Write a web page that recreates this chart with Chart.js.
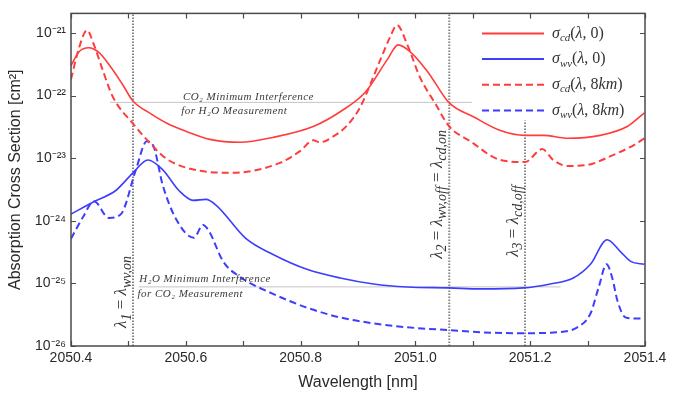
<!DOCTYPE html>
<html>
<head>
<meta charset="utf-8">
<script src="https://cdn.jsdelivr.net/npm/chart.js@4.4.0/dist/chart.umd.min.js"></script>
<style>
  html, body { margin: 0; padding: 0; background: #fff; }
  #wrap { width: 683px; height: 395px; }
</style>
</head>
<body>
<div id="wrap"><canvas id="chart" width="683" height="395"></canvas></div>
<script>
// Wavelengths (nm) and cross sections (cm^2)
const wlCd0 = [2050.400, 2050.414, 2050.431, 2050.449, 2050.468, 2050.489, 2050.508, 2050.538, 2050.567, 2050.600, 2050.642, 2050.695, 2050.752, 2050.822, 2050.869, 2050.913, 2050.951, 2050.970, 2050.991, 2051.021, 2051.059, 2051.101, 2051.148, 2051.191, 2051.223, 2051.265, 2051.322, 2051.369, 2051.399];
const sigmaCd0 = [3.03e-22, 5.02e-22, 5.81e-22, 4.85e-22, 2.97e-22, 1.55e-22, 8.20e-23, 5.20e-23, 3.62e-23, 2.70e-23, 2.00e-23, 1.80e-23, 2.15e-23, 3.21e-23, 5.52e-23, 1.14e-22, 3.76e-22, 6.47e-22, 5.02e-22, 2.44e-22, 7.65e-23, 4.61e-23, 2.77e-23, 2.32e-23, 2.32e-23, 2.08e-23, 2.32e-23, 3.21e-23, 5.32e-23];

const wlWv0 = [2050.400, 2050.438, 2050.478, 2050.508, 2050.534, 2050.560, 2050.588, 2050.613, 2050.635, 2050.653, 2050.705, 2050.752, 2050.811, 2050.869, 2050.927, 2050.986, 2051.059, 2051.113, 2051.188, 2051.235, 2051.275, 2051.305, 2051.334, 2051.357, 2051.375, 2051.399];
const sigmaWv0 = [1.28e-24, 1.98e-24, 3.05e-24, 5.85e-24, 9.37e-24, 6.52e-24, 3.05e-24, 2.12e-24, 2.20e-24, 1.77e-24, 5.18e-25, 2.90e-25, 1.68e-25, 1.22e-25, 9.79e-26, 8.77e-26, 8.47e-26, 8.17e-26, 8.47e-26, 9.79e-26, 1.22e-25, 2.02e-25, 4.99e-25, 3.23e-25, 2.25e-25, 2.02e-25];

const wlCd8 = [2050.400, 2050.414, 2050.428, 2050.440, 2050.456, 2050.473, 2050.508, 2050.538, 2050.567, 2050.625, 2050.682, 2050.764, 2050.799, 2050.822, 2050.834, 2050.857, 2050.881, 2050.904, 2050.939, 2050.956, 2050.968, 2050.986, 2051.008, 2051.035, 2051.059, 2051.096, 2051.148, 2051.191, 2051.221, 2051.240, 2051.265, 2051.300, 2051.340, 2051.380, 2051.399];
const sigmaCd8 = [1.82e-22, 5.81e-22, 1.11e-21, 6.47e-22, 2.44e-22, 9.51e-23, 3.57e-23, 1.73e-23, 9.70e-24, 6.30e-24, 5.85e-24, 8.41e-24, 1.30e-23, 1.93e-23, 1.80e-23, 2.23e-23, 3.33e-23, 6.62e-23, 3.76e-22, 8.65e-22, 1.34e-21, 6.47e-22, 1.96e-22, 7.38e-23, 3.21e-23, 1.86e-23, 9.37e-24, 8.71e-24, 1.40e-23, 9.37e-24, 7.53e-24, 7.82e-24, 1.08e-23, 1.61e-23, 2.08e-23];

const wlWv8 = [2050.400, 2050.421, 2050.440, 2050.466, 2050.487, 2050.513, 2050.532, 2050.543, 2050.560, 2050.583, 2050.614, 2050.630, 2050.641, 2050.665, 2050.695, 2050.752, 2050.811, 2050.869, 2050.927, 2050.986, 2051.059, 2051.113, 2051.188, 2051.247, 2051.282, 2051.305, 2051.319, 2051.333, 2051.343, 2051.352, 2051.366, 2051.380, 2051.399];
const sigmaWv8 = [5.18e-25, 1.15e-24, 2.05e-24, 1.11e-24, 1.28e-24, 6.52e-24, 1.86e-23, 1.61e-23, 3.66e-24, 1.07e-24, 5.37e-25, 8.59e-25, 6.67e-25, 2.25e-25, 1.26e-25, 6.81e-26, 4.10e-26, 2.86e-26, 2.30e-26, 1.99e-26, 1.79e-26, 1.66e-26, 1.60e-26, 1.66e-26, 1.99e-26, 3.30e-26, 8.47e-26, 2.02e-25, 1.22e-25, 5.28e-26, 2.86e-26, 2.75e-26, 2.75e-26];

// selected wavelengths (vertical dotted lines)
const lambdaOn = 2050.508, lambdaOffOn = 2051.059, lambdaCdOff = 2051.191;
// minimum interference levels (horizontal gray lines)
const co2Level = 7.8e-23, co2LevelFrom = 2050.468, co2LevelTo = 2051.099;
const h2oLevel = 8.8e-26, h2oLevelFrom = 2050.518, h2oLevelTo = 2051.253;

const xTickValues = [2050.4, 2050.5, 2050.6, 2050.7, 2050.8, 2050.9, 2051.0, 2051.1, 2051.2, 2051.3, 2051.4];
const yTickValues = [1e-26, 1e-25, 1e-24, 1e-23, 1e-22, 1e-21];
const yTickLabels = ['10⁻²⁶', '10⁻²⁵', '10⁻²⁴', '10⁻²³', '10⁻²²', '10⁻²¹'];

const RED = '#ff3d3d';
const BLUE = '#3d3dff';
const SERIF = '"Liberation Serif", "DejaVu Serif", serif';
const SANS = '"Liberation Sans", Arial, sans-serif';

// rich labels: [text, kind]  i = italic, r = roman, s = subscript
const legendItems = [
  { color: RED, dash: [], parts: [['σ', 'i'], ['cd', 's'], ['(', 'r'], ['λ', 'i'], [', 0)', 'r']] },
  { color: BLUE, dash: [], parts: [['σ', 'i'], ['wv', 's'], ['(', 'r'], ['λ', 'i'], [', 0)', 'r']] },
  { color: RED, dash: [7, 4], parts: [['σ', 'i'], ['cd', 's'], ['(', 'r'], ['λ', 'i'], [', 8', 'r'], ['km', 'i'], [')', 'r']] },
  { color: BLUE, dash: [7, 4], parts: [['σ', 'i'], ['wv', 's'], ['(', 'r'], ['λ', 'i'], [', 8', 'r'], ['km', 'i'], [')', 'r']] }
];

const toPoints = (xs, ys) => xs.map((x, i) => ({ x: x, y: ys[i] }));

function curve(data, color, dash) {
  return {
    data: data,
    borderColor: color,
    borderWidth: dash.length ? 2 : 1.6,
    borderDash: dash,
    pointRadius: 0,
    cubicInterpolationMode: 'monotone',
    fill: false,
    order: 1
  };
}

function guide(data, color, width, dash) {
  return {
    data: data,
    borderColor: color,
    borderWidth: width,
    borderDash: dash,
    pointRadius: 0,
    tension: 0,
    fill: false,
    order: 5
  };
}

function drawRich(ctx, x, y, parts, size, opts) {
  opts = opts || {};
  const subRatio = opts.subRatio || 0.68;
  const fontOf = kind => {
    if (kind === 's') return 'italic ' + Math.round(size * subRatio) + 'px ' + SERIF;
    if (kind === 'i') return 'italic ' + size + 'px ' + SERIF;
    return size + 'px ' + SERIF;
  };
  ctx.save();
  ctx.translate(x, y);
  if (opts.rotate) ctx.rotate(-Math.PI / 2);
  ctx.fillStyle = opts.color || '#333';
  ctx.textBaseline = 'middle';
  ctx.textAlign = 'left';
  let total = 0;
  const widths = parts.map(p => {
    ctx.font = fontOf(p[1]);
    const w = ctx.measureText(p[0]).width;
    total += w;
    return w;
  });
  let cx = opts.center ? -total / 2 : 0;
  parts.forEach((p, i) => {
    ctx.font = fontOf(p[1]);
    ctx.fillText(p[0], cx, p[1] === 's' ? size * 0.3 : 0);
    cx += widths[i];
  });
  ctx.restore();
}

const framePlugin = {
  id: 'frame',
  afterDatasetsDraw(chart) {
    const ctx = chart.ctx;
    const a = chart.chartArea;
    const xs = chart.scales.x, ys = chart.scales.y;

    // box
    ctx.save();
    ctx.strokeStyle = '#4a4a4a';
    ctx.lineWidth = 1.5;
    ctx.strokeRect(a.left, a.top, a.right - a.left, a.bottom - a.top);

    // inward ticks
    ctx.lineWidth = 1.2;
    ctx.beginPath();
    xTickValues.forEach(v => {
      const px = Math.round(xs.getPixelForValue(v)) + 0.5;
      ctx.moveTo(px, a.bottom); ctx.lineTo(px, a.bottom - 5);
      ctx.moveTo(px, a.top); ctx.lineTo(px, a.top + 5);
    });
    yTickValues.forEach(v => {
      const py = Math.round(ys.getPixelForValue(v)) + 0.5;
      ctx.moveTo(a.left, py); ctx.lineTo(a.left + 5, py);
      ctx.moveTo(a.right, py); ctx.lineTo(a.right - 5, py);
    });
    ctx.stroke();
    ctx.restore();

    // legend
    legendItems.forEach((item, i) => {
      const y = a.top + 20 + i * 25.7;
      ctx.save();
      ctx.strokeStyle = item.color;
      ctx.lineWidth = 2;
      ctx.setLineDash(item.dash);
      ctx.beginPath();
      ctx.moveTo(a.right - 163, y);
      ctx.lineTo(a.right - 101, y);
      ctx.stroke();
      ctx.restore();
      drawRich(ctx, a.right - 93, y, item.parts, 16, { color: '#333' });
    });

    // minimum interference notes
    ctx.save();
    ctx.fillStyle = '#3a3a3a';
    ctx.font = 'italic 11px ' + SERIF;
    ctx.textBaseline = 'middle';
    ctx.letterSpacing = '0.45px';
    ctx.fillText('CO₂ Minimum Interference', xs.getPixelForValue(2050.595), ys.getPixelForValue(9.5e-23));
    ctx.fillText('for H₂O Measurement', xs.getPixelForValue(2050.592), ys.getPixelForValue(5.7e-23));
    ctx.fillText('H₂O Minimum Interference', xs.getPixelForValue(2050.519), ys.getPixelForValue(1.17e-25));
    ctx.fillText('for CO₂ Measurement', xs.getPixelForValue(2050.516), ys.getPixelForValue(6.8e-26));
    ctx.restore();

    // wavelength labels along the dotted lines
    const lab = { rotate: true, center: true, subRatio: 0.8 };
    drawRich(ctx, xs.getPixelForValue(lambdaOn) - 11, ys.getPixelForValue(7.3e-26),
      [['λ', 'i'], ['1', 's'], [' = ', 'r'], ['λ', 'i'], ['wv,on', 's']], 17, lab);
    drawRich(ctx, xs.getPixelForValue(lambdaOffOn) - 12, ys.getPixelForValue(2.64e-24),
      [['λ', 'i'], ['2', 's'], [' = ', 'r'], ['λ', 'i'], ['wv,off', 's'], [' = ', 'r'], ['λ', 'i'], ['cd,on', 's']], 17, lab);
    drawRich(ctx, xs.getPixelForValue(lambdaCdOff) - 12, ys.getPixelForValue(9.9e-25),
      [['λ', 'i'], ['3', 's'], [' = ', 'r'], ['λ', 'i'], ['cd,off', 's']], 17, lab);
  }
};

const yMin = 1e-26, yMax = 2.06e-21;

new Chart(document.getElementById('chart'), {
  type: 'line',
  data: {
    datasets: [
      curve(toPoints(wlCd0, sigmaCd0), RED, []),
      curve(toPoints(wlWv0, sigmaWv0), BLUE, []),
      curve(toPoints(wlCd8, sigmaCd8), RED, [7, 4]),
      curve(toPoints(wlWv8, sigmaWv8), BLUE, [7, 4]),
      guide([{ x: co2LevelFrom, y: co2Level }, { x: co2LevelTo, y: co2Level }], '#c4c4c4', 1, []),
      guide([{ x: h2oLevelFrom, y: h2oLevel }, { x: h2oLevelTo, y: h2oLevel }], '#c4c4c4', 1, []),
      guide([{ x: lambdaOn, y: yMin }, { x: lambdaOn, y: yMax }], '#858585', 2, [1.5, 1.5]),
      guide([{ x: lambdaOffOn, y: yMin }, { x: lambdaOffOn, y: yMax }], '#858585', 2, [1.5, 1.5]),
      guide([{ x: lambdaCdOff, y: yMin }, { x: lambdaCdOff, y: 4e-23 }], '#858585', 2, [1.5, 1.5])
    ]
  },
  options: {
    responsive: false,
    animation: false,
    devicePixelRatio: 1,
    layout: { padding: { top: 8, right: 38, left: 0, bottom: 0 } },
    plugins: {
      legend: { display: false },
      tooltip: { enabled: false }
    },
    scales: {
      x: {
        type: 'linear',
        min: 2050.4,
        max: 2051.4,
        afterBuildTicks: s => { s.ticks = xTickValues.map(v => ({ value: v })); },
        afterFit: s => { s.height = 49; },
        grid: { display: false, drawTicks: false },
        border: { display: false },
        ticks: {
          autoSkip: false,
          maxRotation: 0,
          padding: 4,
          color: '#2a2a2a',
          font: { family: SANS, size: 14 },
          callback: v => (Math.round(v * 10) % 2 === 0 ? v.toFixed(1) : '')
        },
        title: {
          display: true,
          text: 'Wavelength [nm]',
          color: '#2a2a2a',
          font: { family: SANS, size: 16 },
          padding: { top: 0, bottom: 3 }
        }
      },
      y: {
        type: 'logarithmic',
        min: yMin,
        max: yMax,
        afterBuildTicks: s => { s.ticks = yTickValues.map(v => ({ value: v })); },
        afterFit: s => { s.width = 71; },
        grid: { display: false, drawTicks: false },
        border: { display: false },
        ticks: {
          padding: 5,
          color: '#2a2a2a',
          font: { family: SANS, size: 14 },
          callback: (v, i) => yTickLabels[i]
        },
        title: {
          display: true,
          text: 'Absorption Cross Section [cm²]',
          color: '#2a2a2a',
          font: { family: SANS, size: 16 },
          padding: { top: 6, bottom: 0 }
        }
      }
    }
  },
  plugins: [framePlugin]
});
</script>
</body>
</html>
